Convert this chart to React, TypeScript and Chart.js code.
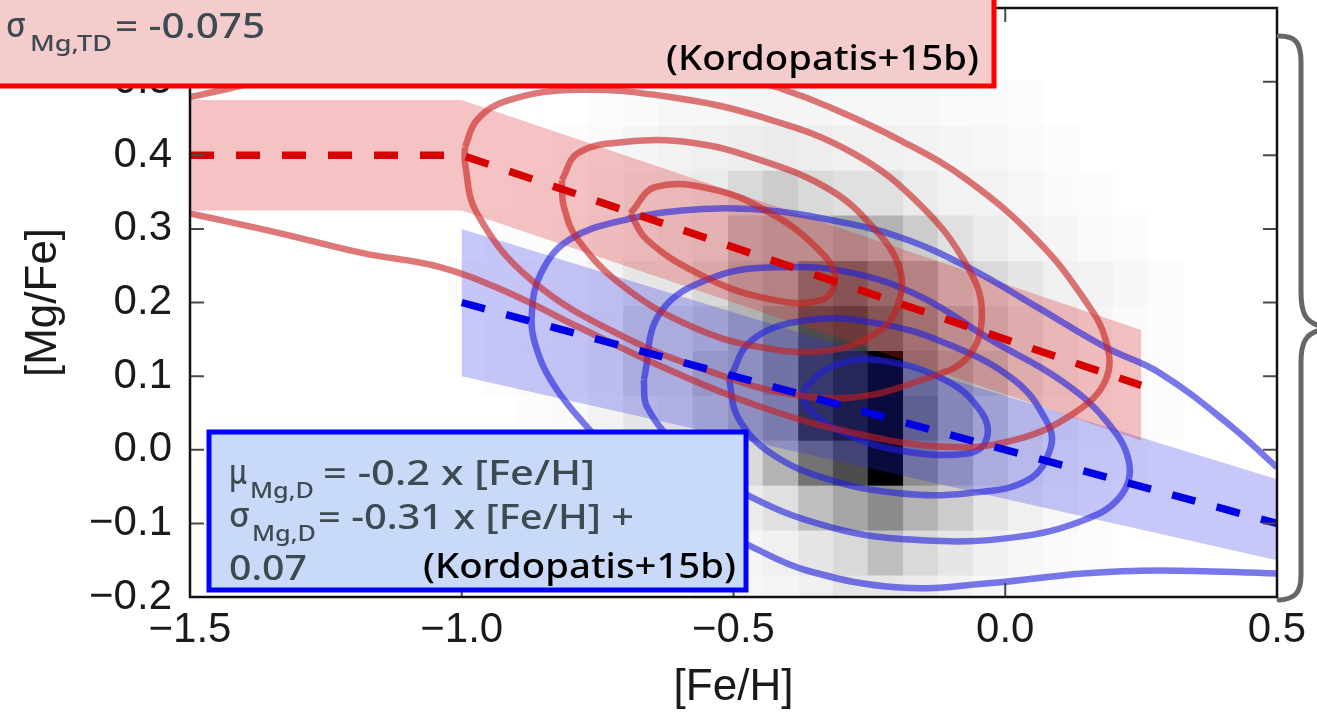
import React, { useEffect, useRef } from "react";
import { Chart, registerables } from "chart.js";

Chart.register(...registerables);

// ---------- axes ----------
const xTickValues = [-1.5, -1.0, -0.5, 0.0, 0.5];
const yTickValues = [-0.2, -0.1, 0.0, 0.1, 0.2, 0.3, 0.4, 0.5];

// ---------- thick disc (TD) model ----------
const tdBandX = [-1.5, -1.0, 0.25];
const tdBandUpper = [0.475, 0.475, 0.1625];
const tdBandLower = [0.325, 0.325, 0.0125];
const tdMeanX = [-1.5, -1.0, 0.25];
const tdMeanY = [0.4, 0.4, 0.0875];

// ---------- thin disc (D) model ----------
const dBandX = [-1.0, 0.5];
const dBandUpper = [0.3, -0.04];
const dBandLower = [0.1, -0.15];
const dMeanX = [-1.0, 0.5];
const dMeanY = [0.2, -0.1];

// ---------- red (thick disc) density contours ----------
const red1X = [-0.690, -0.643, -0.534, -0.431, -0.348, -0.313, -0.339, -0.449, -0.567, -0.659, -0.690];
const red1Y = [0.321, 0.357, 0.353, 0.321, 0.275, 0.235, 0.203, 0.207, 0.240, 0.285, 0.321];
const red2X = [-0.816, -0.786, -0.701, -0.576, -0.449, -0.322, -0.238, -0.195, -0.195, -0.229, -0.322, -0.449, -0.576, -0.701, -0.786, -0.812, -0.816];
const red2Y = [0.366, 0.403, 0.418, 0.417, 0.393, 0.353, 0.298, 0.248, 0.203, 0.163, 0.135, 0.139, 0.167, 0.221, 0.285, 0.330, 0.366];
const red3X = [-0.994, -0.972, -0.913, -0.786, -0.617, -0.449, -0.280, -0.153, -0.069, -0.043, -0.069, -0.153, -0.280, -0.407, -0.534, -0.701, -0.871, -0.972, -0.994, -0.994];
const red3Y = [0.411, 0.448, 0.475, 0.489, 0.479, 0.452, 0.403, 0.330, 0.248, 0.186, 0.126, 0.095, 0.071, 0.077, 0.104, 0.153, 0.230, 0.321, 0.389, 0.411];
const red4X = [-1.5, -1.426, -1.298, -1.114, -0.930, -0.746, -0.562, -0.407, -0.322, -0.195, -0.069, 0.058, 0.143, 0.185, 0.185, 0.127, 0.016, -0.111, -0.280, -0.449, -0.617, -0.786, -0.913, -1.040, -1.182, -1.334, -1.5];
const red4Y = [0.479, 0.491, 0.513, 0.536, 0.550, 0.546, 0.523, 0.489, 0.465, 0.421, 0.366, 0.285, 0.207, 0.149, 0.095, 0.050, 0.013, 0.004, 0.023, 0.058, 0.108, 0.167, 0.213, 0.248, 0.267, 0.294, 0.321];

// ---------- blue (thin disc) density contours ----------
const blue1X = [-0.372, -0.322, -0.238, -0.111, -0.043, -0.035, -0.069, -0.195, -0.297, -0.365, -0.372];
const blue1Y = [0.081, 0.112, 0.122, 0.095, 0.050, 0.013, -0.005, -0.001, 0.023, 0.058, 0.081];
const blue2X = [-0.508, -0.466, -0.365, -0.238, -0.111, 0.016, 0.075, 0.084, 0.042, -0.069, -0.195, -0.322, -0.431, -0.492, -0.508];
const blue2Y = [0.095, 0.149, 0.176, 0.172, 0.145, 0.095, 0.040, 0.004, -0.041, -0.059, -0.059, -0.041, -0.005, 0.044, 0.095];
const blue3X = [-0.665, -0.635, -0.534, -0.407, -0.280, -0.153, -0.026, 0.101, 0.185, 0.228, 0.211, 0.143, 0.016, -0.153, -0.322, -0.492, -0.600, -0.659, -0.665];
const blue3Y = [0.095, 0.186, 0.235, 0.248, 0.240, 0.207, 0.149, 0.095, 0.040, -0.018, -0.064, -0.096, -0.119, -0.123, -0.105, -0.055, 0.004, 0.058, 0.095];
const blue4X = [0.5, 0.414, 0.285, 0.185, 0.058, -0.069, -0.195, -0.322, -0.449, -0.576, -0.701, -0.803, -0.854, -0.871, -0.863, -0.828, -0.760, -0.654, -0.466, -0.365, -0.195, -0.026, 0.143, 0.285, 0.5];
const blue4Y = [-0.024, 0.033, 0.104, 0.139, 0.194, 0.248, 0.289, 0.312, 0.326, 0.326, 0.312, 0.285, 0.240, 0.186, 0.139, 0.085, 0.023, -0.062, -0.132, -0.164, -0.187, -0.181, -0.168, -0.164, -0.168];

// ---------- 2D histogram of the data ----------
const histXEdges = [-1.025, -0.961, -0.896, -0.832, -0.768, -0.703, -0.639, -0.575, -0.510, -0.446, -0.381, -0.317, -0.253, -0.188, -0.124, -0.059, 0.005, 0.069, 0.134, 0.198, 0.263, 0.327, 0.391];
const histYEdges = [-0.231, -0.170, -0.109, -0.048, 0.013, 0.074, 0.135, 0.196, 0.257, 0.319, 0.380, 0.441, 0.502];
// rows from bottom (lowest [Mg/Fe]) to top, relative density 0..100
const histCounts = [
  [0, 0, 0, 0, 0, 0, 0, 2, 3, 4, 6, 10, 10, 8, 5, 3, 2, 1, 0, 0, 0, 0],
  [0, 0, 0, 0, 0, 0, 2, 3, 4, 6, 10, 15, 25, 15, 10, 6, 3, 2, 1, 0, 0, 0],
  [0, 0, 0, 0, 1, 3, 4, 6, 8, 12, 25, 35, 45, 30, 20, 10, 6, 3, 1, 0, 0, 0],
  [0, 0, 0, 1, 3, 6, 8, 10, 15, 30, 55, 70, 100, 45, 30, 15, 8, 4, 2, 1, 0, 0],
  [0, 0, 1, 2, 5, 10, 12, 20, 30, 40, 80, 90, 100, 55, 35, 20, 10, 6, 3, 2, 1, 0],
  [0, 1, 2, 3, 6, 15, 15, 25, 30, 45, 75, 85, 100, 50, 35, 25, 12, 7, 4, 2, 1, 0],
  [0, 1, 2, 3, 6, 15, 15, 20, 30, 45, 70, 75, 60, 45, 30, 20, 12, 7, 4, 2, 1, 0],
  [1, 1, 2, 3, 5, 10, 10, 15, 30, 35, 55, 60, 50, 35, 20, 15, 10, 6, 5, 3, 1, 0],
  [0, 1, 1, 2, 4, 6, 8, 10, 25, 30, 30, 35, 30, 20, 12, 8, 5, 4, 2, 1, 0, 0],
  [0, 0, 1, 1, 3, 5, 6, 8, 15, 20, 15, 12, 12, 8, 5, 5, 3, 2, 1, 0, 0, 0],
  [0, 0, 0, 1, 2, 4, 5, 6, 7, 8, 7, 6, 6, 5, 4, 3, 2, 1, 0, 0, 0, 0],
  [0, 0, 0, 0, 1, 2, 3, 3, 4, 4, 4, 3, 3, 3, 2, 2, 1, 0, 0, 0, 0, 0],
];

// ---------- annotation texts ----------
const tdSigmaSub = "Mg,TD";
const tdSigmaText = "= -0.075";
const refText = "(Kordopatis+15b)";
const dMuSub = "Mg,D";
const dMuText = "= -0.2 x [Fe/H]";
const dSigmaSub = "Mg,D";
const dSigmaText = "= -0.31 x [Fe/H] +";
const dSigmaText2 = "0.07";

const AXIS_FONT = '"Liberation Sans", Arial, sans-serif';
const NOTE_FONT = '"Noto Sans", "Open Sans", sans-serif';

const pts = (xs: number[], ys: number[]) => xs.map((x, i) => ({ x, y: ys[i] }));
const band = (xs: number[], up: number[], lo: number[]) => [
  ...pts(xs, up),
  ...pts(xs, lo).reverse(),
];

const fmt = (v: number) => {
  const s = Number(v).toFixed(1);
  return s.startsWith("-") ? "\u2212" + s.slice(1) : s;
};

function fitText(ctx: CanvasRenderingContext2D, text: string, x: number, y: number, w: number, size: number, color: string, align: "left" | "right" = "left") {
  ctx.save();
  ctx.font = `500 ${size}px ${NOTE_FONT}`;
  ctx.fillStyle = color;
  ctx.textBaseline = "alphabetic";
  ctx.textAlign = "left";
  const m = ctx.measureText(text).width || 1;
  ctx.translate(align === "right" ? x - w : x, y);
  ctx.scale(w / m, 1);
  ctx.fillText(text, 0, 0);
  ctx.restore();
}

const histPlugin = {
  id: "hist2d",
  beforeDatasetsDraw(chart: any) {
    const { ctx, chartArea: a, scales } = chart;
    const xs = scales.x, ys = scales.y;
    ctx.save();
    ctx.beginPath();
    ctx.rect(a.left, a.top, a.right - a.left, a.bottom - a.top);
    ctx.clip();
    for (let r = 0; r < histCounts.length; r++) {
      for (let c = 0; c < histCounts[r].length; c++) {
        const v = histCounts[r][c];
        if (!v) continue;
        const g = Math.round(255 * (1 - v / 100));
        ctx.fillStyle = `rgb(${g},${g},${g})`;
        const x0 = xs.getPixelForValue(histXEdges[c]);
        const x1 = xs.getPixelForValue(histXEdges[c + 1]);
        const y0 = ys.getPixelForValue(histYEdges[r]);
        const y1 = ys.getPixelForValue(histYEdges[r + 1]);
        ctx.fillRect(Math.min(x0, x1), Math.min(y0, y1), Math.abs(x1 - x0) + 0.6, Math.abs(y1 - y0) + 0.6);
      }
    }
    ctx.restore();
  },
};

const framePlugin = {
  id: "frame",
  afterDatasetsDraw(chart: any) {
    const { ctx, chartArea: a, scales } = chart;
    const xs = scales.x, ys = scales.y;
    ctx.save();
    ctx.strokeStyle = "#4a4a4a";
    ctx.lineWidth = 2;
    const tl = 14;
    ctx.beginPath();
    for (const v of xTickValues) {
      const p = xs.getPixelForValue(v);
      ctx.moveTo(p, a.bottom); ctx.lineTo(p, a.bottom - tl);
      ctx.moveTo(p, a.top); ctx.lineTo(p, a.top + tl);
    }
    for (const v of yTickValues) {
      const p = ys.getPixelForValue(v);
      ctx.moveTo(a.left, p); ctx.lineTo(a.left + tl, p);
      ctx.moveTo(a.right, p); ctx.lineTo(a.right - tl, p);
    }
    ctx.stroke();
    ctx.strokeStyle = "#111";
    ctx.lineWidth = 2.5;
    ctx.strokeRect(a.left, a.top, a.right - a.left, a.bottom - a.top);
    ctx.restore();
  },
};

const overlayPlugin = {
  id: "overlay",
  afterDraw(chart: any) {
    const ctx: CanvasRenderingContext2D = chart.ctx;
    ctx.save();
    // red note box
    ctx.fillStyle = "#f4cccc";
    ctx.fillRect(-10, -10, 1004, 96);
    ctx.strokeStyle = "#ff0000";
    ctx.lineWidth = 5;
    ctx.strokeRect(-10, -10, 1004, 96);
    const slate = "#3d4a52";
    fitText(ctx, "\u03c3", 6, 37, 20, 34, slate);
    fitText(ctx, tdSigmaSub, 30, 51, 82, 22, slate);
    fitText(ctx, tdSigmaText, 115, 38, 150, 34, slate);
    fitText(ctx, refText, 979, 70, 313, 34, "#000", "right");

    // blue note box
    ctx.fillStyle = "#c9daf8";
    ctx.fillRect(209, 432, 537, 158);
    ctx.strokeStyle = "#0000ff";
    ctx.lineWidth = 5;
    ctx.strokeRect(209, 432, 537, 158);
    fitText(ctx, "\u03bc", 229, 484, 18, 34, slate);
    fitText(ctx, dMuSub, 250, 498, 64, 22, slate);
    fitText(ctx, dMuText, 323, 485, 272, 34, slate);
    fitText(ctx, "\u03c3", 229, 527, 21, 34, slate);
    fitText(ctx, dSigmaSub, 252, 541, 64, 22, slate);
    fitText(ctx, dSigmaText, 318, 529, 316, 34, slate);
    fitText(ctx, dSigmaText2, 229, 580, 78, 34, slate);
    fitText(ctx, refText, 736, 578, 313, 34, "#000", "right");

    // curly brace on the right
    ctx.strokeStyle = "#666";
    ctx.lineWidth = 5;
    ctx.lineCap = "round";
    ctx.beginPath();
    ctx.moveTo(1279, 36);
    ctx.bezierCurveTo(1295, 36, 1301, 42, 1301, 62);
    ctx.lineTo(1301, 292);
    ctx.bezierCurveTo(1301, 314, 1306, 322, 1320, 326);
    ctx.moveTo(1320, 330);
    ctx.bezierCurveTo(1306, 334, 1301, 342, 1301, 362);
    ctx.lineTo(1301, 575);
    ctx.bezierCurveTo(1301, 593, 1295, 599, 1279, 600);
    ctx.stroke();
    ctx.restore();
  },
};

const RED_C = "rgba(200,30,30,0.6)";
const BLUE_C = "rgba(30,30,220,0.6)";

function contour(xs: number[], ys: number[], color: string) {
  return {
    data: pts(xs, ys),
    borderColor: color,
    borderWidth: 6.5,
    pointRadius: 0,
    tension: 0.4,
    fill: false,
    order: 1,
  };
}

export default function App() {
  const ref = useRef<HTMLCanvasElement | null>(null);
  useEffect(() => {
    if (!ref.current) return;
    const chart = new Chart(ref.current, {
      type: "line",
      data: {
        datasets: [
          {
            data: band(tdBandX, tdBandUpper, tdBandLower),
            borderWidth: 0,
            backgroundColor: "rgba(220,40,40,0.28)",
            pointRadius: 0,
            fill: "shape",
            tension: 0,
            order: 3,
          } as any,
          {
            data: band(dBandX, dBandUpper, dBandLower),
            borderWidth: 0,
            backgroundColor: "rgba(40,40,230,0.26)",
            pointRadius: 0,
            fill: "shape",
            tension: 0,
            order: 3,
          } as any,
          contour(red4X, red4Y, RED_C),
          contour(red3X, red3Y, RED_C),
          contour(red2X, red2Y, RED_C),
          contour(red1X, red1Y, RED_C),
          contour(blue4X, blue4Y, BLUE_C),
          contour(blue3X, blue3Y, BLUE_C),
          contour(blue2X, blue2Y, BLUE_C),
          contour(blue1X, blue1Y, BLUE_C),
          {
            data: pts(tdMeanX, tdMeanY),
            borderColor: "rgb(215,0,0)",
            borderWidth: 7.5,
            borderDash: [24, 22],
            pointRadius: 0,
            tension: 0,
            fill: false,
            order: 0,
          },
          {
            data: pts(dMeanX, dMeanY),
            borderColor: "rgb(0,0,230)",
            borderWidth: 7.5,
            borderDash: [24, 22],
            pointRadius: 0,
            tension: 0,
            fill: false,
            order: 0,
          },
        ],
      },
      options: {
        animation: false,
        responsive: false,
        events: [],
        layout: { padding: { top: 8, right: 40, left: 0, bottom: 0 } },
        plugins: { legend: { display: false }, tooltip: { enabled: false } },
        scales: {
          x: {
            type: "linear",
            min: -1.5,
            max: 0.5,
            grid: { display: false, drawTicks: false },
            border: { display: false },
            afterBuildTicks: (s: any) => { s.ticks = xTickValues.map((v) => ({ value: v })); },
            afterFit: (s: any) => { s.height = 124; s.paddingLeft = 0; s.paddingRight = 0; },
            ticks: {
              autoSkip: false,
              maxRotation: 0,
              padding: 8,
              color: "#1a1a1a",
              font: { family: AXIS_FONT, size: 42 },
              callback: (v: any) => fmt(v),
            },
            title: {
              display: true,
              text: "[Fe/H]",
              color: "#1a1a1a",
              font: { family: AXIS_FONT, size: 44 },
              padding: { top: 0, bottom: 7 },
            },
          },
          y: {
            type: "linear",
            min: -0.2,
            max: 0.6,
            grid: { display: false, drawTicks: false },
            border: { display: false },
            afterBuildTicks: (s: any) => { s.ticks = yTickValues.map((v) => ({ value: v })); },
            afterFit: (s: any) => { s.width = 190; s.paddingTop = 0; s.paddingBottom = 0; },
            ticks: {
              autoSkip: false,
              padding: 18,
              color: "#1a1a1a",
              font: { family: AXIS_FONT, size: 42 },
              callback: (v: any) => fmt(v),
            },
            title: {
              display: true,
              text: "[Mg/Fe]",
              color: "#1a1a1a",
              font: { family: AXIS_FONT, size: 44 },
              padding: { top: 17, bottom: 0 },
            },
          },
        },
      } as any,
      plugins: [histPlugin, framePlugin, overlayPlugin],
    });
    return () => chart.destroy();
  }, []);
  return (
    <div style={{ position: "absolute", left: 0, top: 0, width: 1317, height: 721, background: "#fff" }}>
      <canvas ref={ref} width={1317} height={721} style={{ display: "block" }} />
    </div>
  );
}
